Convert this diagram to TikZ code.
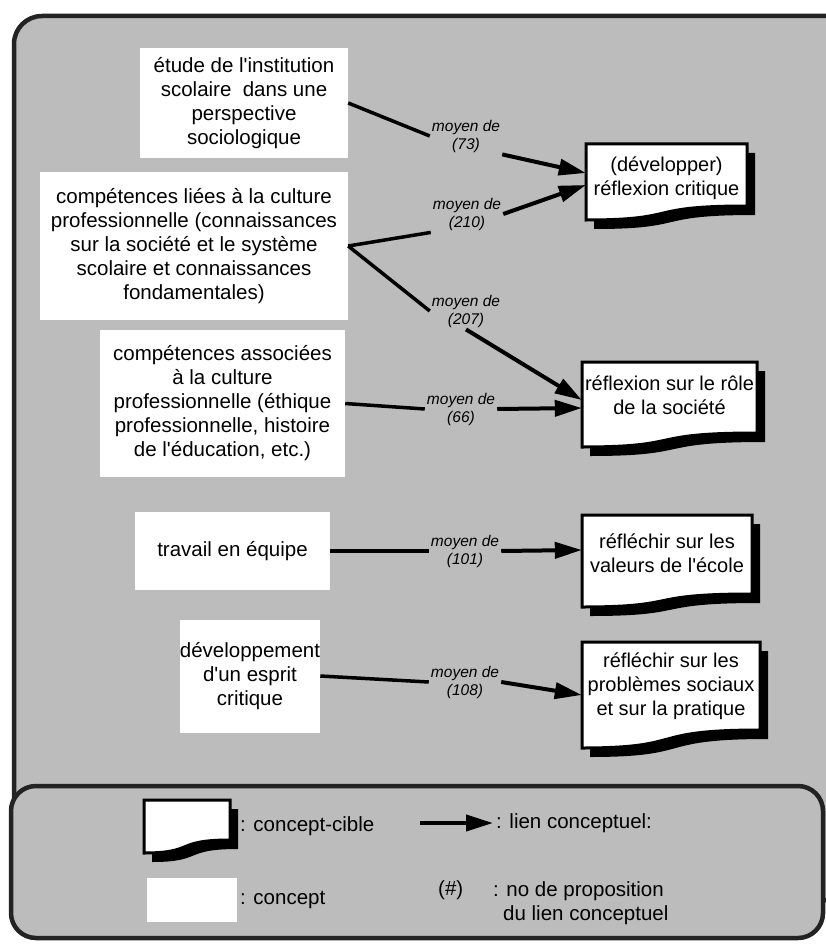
\documentclass[tikz,border=0pt]{standalone}
\usepackage{fontspec}
\setmainfont{Liberation Sans}
\usetikzlibrary{arrows.meta}

\definecolor{panelgray}{RGB}{188,188,188}
\definecolor{panelline}{RGB}{35,35,35}

\newcommand\apos{\textquotesingle}

\tikzset{
  concept/.style={fill=white, inner sep=0pt, align=center, font=\fontsize{20.5}{24}\selectfont},
  cible/.style={inner sep=0pt, align=center, font=\fontsize{20}{24}\selectfont},
  linklabel/.style={inner sep=2pt, align=center, font=\fontsize{15.5}{18}\selectfont\itshape},
  legendtext/.style={inner sep=0pt, anchor=west, align=left, font=\fontsize{20.5}{24}\selectfont},
  plain/.style={line width=3.5pt},
  link/.style={line width=4pt, -{Triangle[length=27pt,width=16pt]}},
  panel/.style={draw=panelline, line width=4.5pt, fill=panelgray},
}

% target concept: white box with a wavy lower edge and a black drop shadow
% #1 left, #2 top, #3 right, #4 bottom at the left, #5 bottom at the right
\newcommand\cibleshape[5]{%
  \fill[black] ({#1+8},{#2+9}) -- ({#3+8},{#2+9}) -- ({#3+8},{#5+9})
    .. controls ({#1+8+0.35*(#3-#1)},{#5+9}) and ({#1+8+0.6*(#3-#1)},{#4+9}) .. ({#1+8},{#4+9}) -- cycle;
  \filldraw[fill=white, draw=black, line width=3pt] (#1,#2) -- (#3,#2) -- (#3,#5)
    .. controls ({#1+0.35*(#3-#1)},#5) and ({#1+0.6*(#3-#1)},#4) .. (#1,#4) -- cycle;
}

\begin{document}
\begin{tikzpicture}[x=1pt, y=-1pt]
\useasboundingbox (0,0) rectangle (826,944);
\clip (0,0) rectangle (826,944);
\fill[white] (0,0) rectangle (826,944);

% panels
\draw[panel, rounded corners=28pt] (14,16) rectangle (860,900);
\draw[panel, rounded corners=25pt] (11,786) rectangle (823,938);

% target shapes
\cibleshape{586}{144}{747}{220}{206}
\cibleshape{582}{362}{757}{447}{433}
\cibleshape{582}{515}{752}{607}{594}
\cibleshape{582}{642}{760}{748}{730}

% concepts
\node[concept, minimum width=208, minimum height=110] (c1) at (244,103)
  {étude de l\apos institution\\scolaire \ dans une\\perspective\\sociologique};
\node[concept, minimum width=308, minimum height=148] (c2) at (194,246)
  {compétences liées à la culture\\professionnelle (connaissances\\sur la société et le système\\scolaire et connaissances\\fondamentales)};
\node[concept, minimum width=245, minimum height=147] (c3) at (222.5,403.5)
  {compétences associées\\à la culture\\professionnelle (éthique\\professionnelle, histoire\\de l\apos éducation, etc.)};
\node[concept, minimum width=195, minimum height=78] (c4) at (232.5,551)
  {travail en équipe};
\node[concept, minimum width=140, minimum height=113] (c5) at (250,676)
  {développement\\d\apos un esprit\\critique};

% target concepts
\node[cible, minimum width=161] (t1) at (666.5,178) {(développer)\\réflexion critique};
\node[cible, minimum width=175] (t2) at (669.5,395) {réflexion sur le rôle\\de la société};
\node[cible, minimum width=170] (t3) at (667,553) {réfléchir sur les\\valeurs de l\apos école};
\node[cible, minimum width=178] (t4) at (671,686) {réfléchir sur les\\problèmes sociaux\\et sur la pratique};

% link labels
\node[linklabel] (l73)  at (466,136) {moyen de\\(73)};
\node[linklabel] (l210) at (467,214) {moyen de\\(210)};
\node[linklabel] (l207) at (466,311) {moyen de\\(207)};
\node[linklabel] (l66)  at (461,409) {moyen de\\(66)};
\node[linklabel] (l101) at (465,551) {moyen de\\(101)};
\node[linklabel] (l108) at (465,682) {moyen de\\(108)};

% links
\draw[plain] (c1.east) -- (l73.west);
\draw[link] (l73.south east) -- ([yshift=5pt]t1.west);
\draw[plain] (c2.east) -- (l210.south west);
\draw[link] (l210.east) -- ([yshift=-7pt]t1.west);
\draw[plain] (c2.east) -- (l207.west);
\draw[link] (l207.south) -- ([yshift=-5pt]t2.west);
\draw[plain] (c3.east) -- (l66.west);
\draw[link] (l66.east) -- ([yshift=-13pt]t2.west);
\draw[plain] (c4.east) -- (l101.west);
\draw[link] (l101.east) -- ([yshift=3pt]t3.west);
\draw[plain] (c5.east) -- (l108.west);
\draw[link] (l108.east) -- ([yshift=-9pt]t4.west);

% legend
\cibleshape{144}{800}{230}{853}{840}
\node[fill=white, inner sep=0pt, minimum width=90, minimum height=44] (lconcept) at (192,900) {};
\node[legendtext] (lcible) at (240,826) {: concept-cible};
\node[legendtext] (lconc) at (240,900) {: concept};
\coordinate (la) at (420,823);
\coordinate (lb) at (493,823);
\draw[link] (la) -- (lb);
\node[legendtext] (llien) at (496,823) {: lien conceptuel:};
\node[legendtext] (lnum) at (438,890) {(\#)};
\node[legendtext] (lprop) at (493,903) {: no de proposition\\\hspace*{10pt}du lien conceptuel};
\end{tikzpicture}
\end{document}
